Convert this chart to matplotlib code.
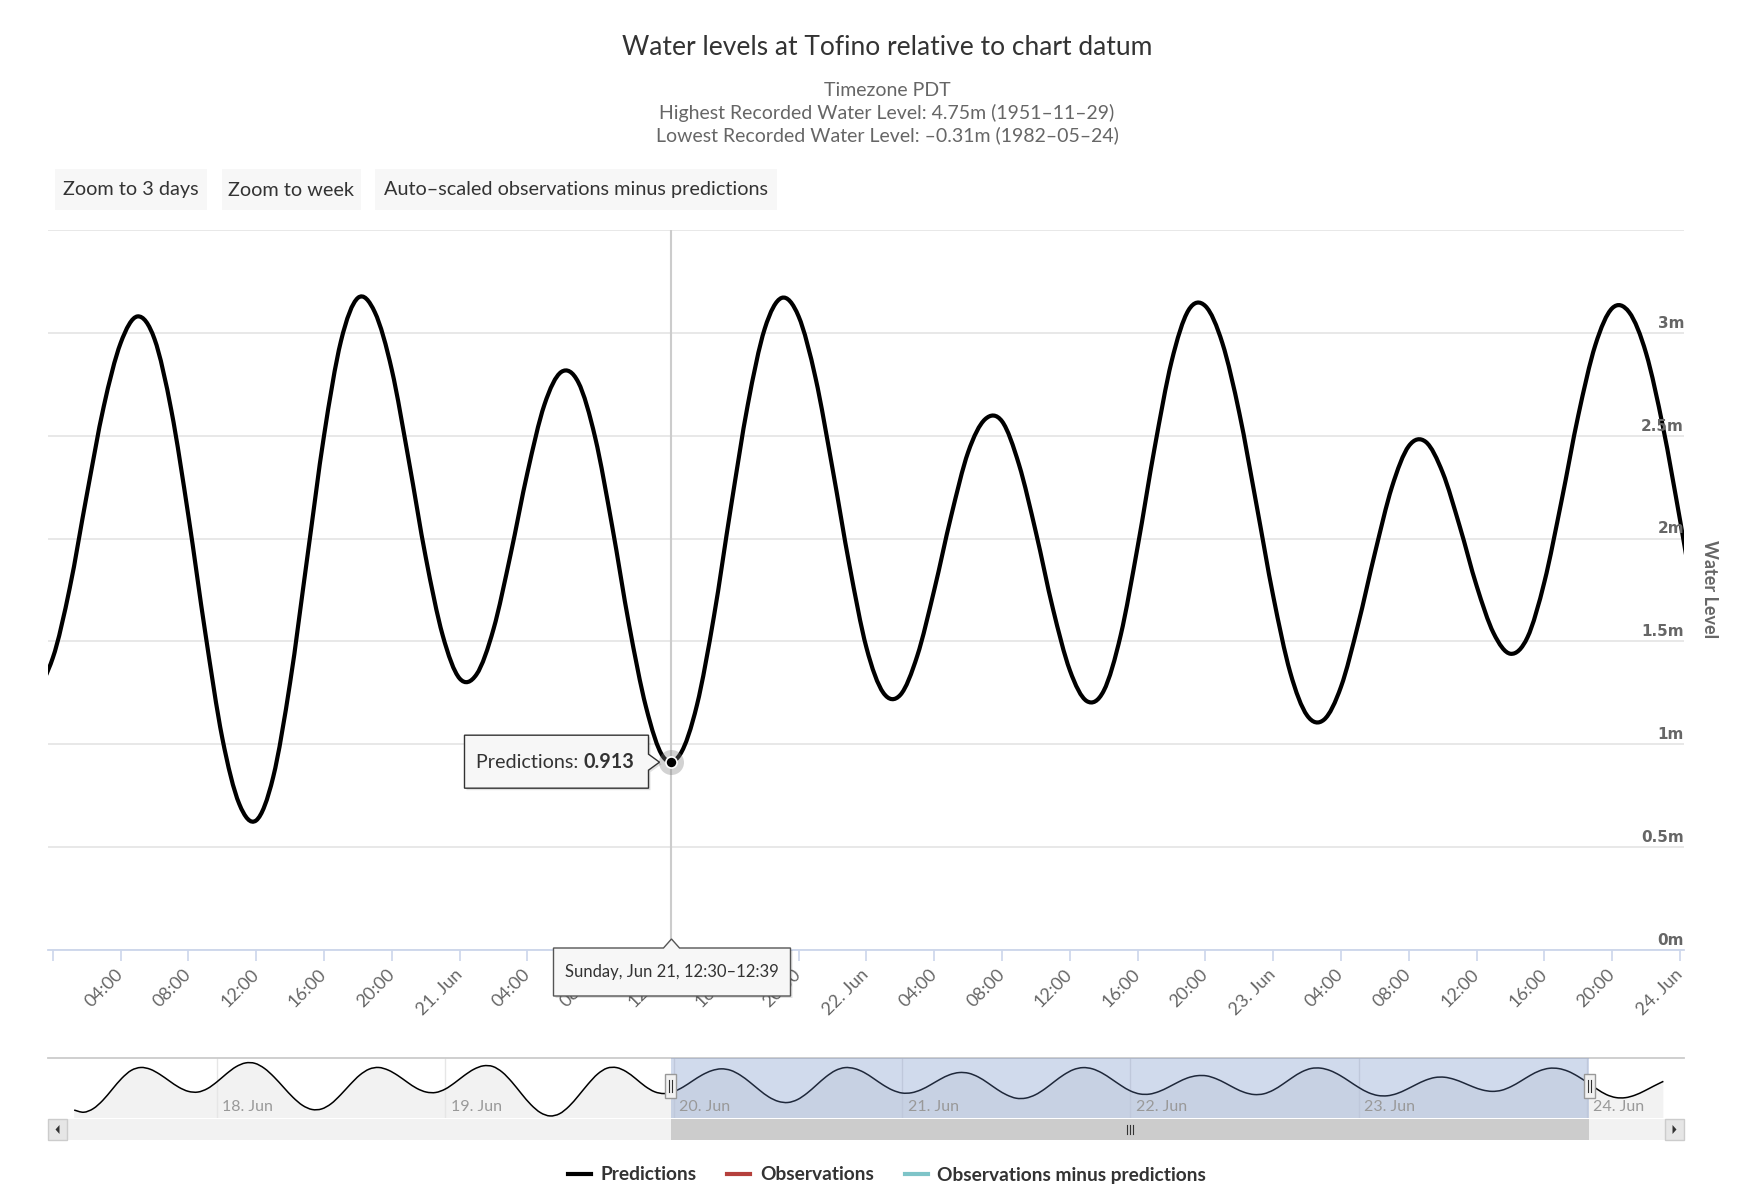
import numpy as np
import pandas as pd
import matplotlib
matplotlib.use("Agg")
import matplotlib.pyplot as plt
import matplotlib.dates as mdates
import matplotlib.transforms as mtransforms
from matplotlib.patches import Rectangle, Polygon, PathPatch
from matplotlib.path import Path
from matplotlib.lines import Line2D

plt.rcParams["font.family"] = ["Lato", "DejaVu Sans"]

W, H = 1743, 1189

# Predicted water level (m), hourly from 2020-06-17 09:00 PDT
series_start = "2020-06-17 09:00"
level = [
    0.08, -0.08, 0.18, 0.78, 1.59, 2.39, 2.97, 3.18, 3.05, 2.68, 2.20, 1.74,
    1.44, 1.39, 1.64, 2.13, 2.72, 3.23, 3.51, 3.48, 3.11, 2.49, 1.74, 1.00,
    0.42, 0.12, 0.16, 0.54, 1.19, 1.94, 2.62, 3.06, 3.18, 2.99, 2.60, 2.11,
    1.66, 1.39, 1.36, 1.61, 2.07, 2.60, 3.05, 3.30, 3.25, 2.83, 2.12, 1.27,
    0.47, -0.11, -0.35, -0.19, 0.35, 1.13, 1.97, 2.70, 3.13, 3.17, 2.88, 2.37,
    1.81, 1.41, 1.28, 1.42, 1.76, 2.21, 2.64, 2.95, 3.08, 2.97, 2.62, 2.11,
    1.54, 1.03, 0.71, 0.63, 0.84, 1.30, 1.90, 2.50, 2.96, 3.17, 3.10, 2.82,
    2.38, 1.91, 1.53, 1.32, 1.34, 1.56, 1.92, 2.32, 2.65, 2.81, 2.76, 2.49,
    2.06, 1.58, 1.18, 0.94, 0.95, 1.19, 1.62, 2.15, 2.65, 3.02, 3.17, 3.08,
    2.78, 2.34, 1.87, 1.47, 1.25, 1.24, 1.43, 1.75, 2.11, 2.42, 2.58, 2.57,
    2.36, 2.03, 1.66, 1.36, 1.21, 1.26, 1.53, 1.96, 2.44, 2.86, 3.11, 3.13,
    2.95, 2.61, 2.17, 1.72, 1.35, 1.14, 1.12, 1.28, 1.58, 1.93, 2.25, 2.45,
    2.47, 2.32, 2.06, 1.77, 1.54, 1.44, 1.52, 1.79, 2.18, 2.60, 2.94, 3.12,
    3.10, 2.90, 2.54, 2.09, 1.62, 1.21, 0.99, 0.98, 1.16, 1.47, 1.83, 2.17,
]

view_start, view_end = "2020-06-19 23:43", "2020-06-24 00:14"
nav_start, nav_end = "2020-06-17 06:15", "2020-06-24 10:10"
nav_days = ["2020-06-18", "2020-06-19", "2020-06-20", "2020-06-21",
            "2020-06-22", "2020-06-23", "2020-06-24"]

hover_time = "2020-06-21 12:30"
hover_value = 0.913
hover_label = "Sunday, Jun 21, 12:30\u201312:39"

y_ticks = [0, 0.5, 1, 1.5, 2, 2.5, 3]
y_max = 3.5

title = "Water levels at Tofino relative to chart datum"
subtitle = ["Timezone PDT",
            "Highest Recorded Water Level: 4.75m (1951\u201311\u201329)",
            "Lowest Recorded Water Level: \u20130.31m (1982\u201305\u201324)"]
buttons = ["Zoom to 3 days", "Zoom to week", "Auto\u2013scaled observations minus predictions"]
legend_names = ["Predictions", "Observations", "Observations minus predictions"]
legend_colors = ["#000000", "#b5403c", "#7ec4c8"]


def fx(x):
    return x / W


def fy(y):
    return 1 - y / H


def spline_path(xs, ys):
    # smooth line through the points (Catmull-Rom as cubic Bezier), like a spline series
    n = len(xs)
    verts = [(xs[0], ys[0])]
    codes = [Path.MOVETO]
    for i in range(n - 1):
        j0 = max(i - 1, 0)
        j3 = min(i + 2, n - 1)
        c1 = (xs[i] + (xs[i + 1] - xs[j0]) / 6, ys[i] + (ys[i + 1] - ys[j0]) / 6)
        c2 = (xs[i + 1] - (xs[j3] - xs[i]) / 6, ys[i + 1] - (ys[j3] - ys[i]) / 6)
        verts += [c1, c2, (xs[i + 1], ys[i + 1])]
        codes += [Path.CURVE4] * 3
    return Path(verts, codes)


fig = plt.figure(figsize=(W / 100, H / 100), dpi=100)
fig.patch.set_facecolor("white")

times = pd.date_range(series_start, periods=len(level), freq="h")
tnum = mdates.date2num(times)
curve = spline_path(tnum, level)

# ---- main chart
ax = fig.add_axes([fx(48), fy(950), (1684 - 48) / W, (950 - 230) / H])
ax.xaxis_date()
ax.add_patch(PathPatch(curve, facecolor="none", edgecolor="black", lw=3.0,
                       joinstyle="round", capstyle="round", zorder=3))
ax.set_xlim(pd.Timestamp(view_start), pd.Timestamp(view_end))
ax.set_ylim(0, y_max)

for s in ["top", "left", "right"]:
    ax.spines[s].set_visible(False)
ax.spines["bottom"].set_color("#ccd6eb")
ax.spines["bottom"].set_linewidth(1.3)

ax.set_yticks(y_ticks + [y_max])
ax.yaxis.grid(True, color="#e6e6e6", lw=1.3)
ax.tick_params(axis="y", length=0, labelleft=False)
ax.set_axisbelow(True)

ytrans = mtransforms.blended_transform_factory(ax.transAxes, ax.transData)
for v in y_ticks:
    ax.annotate(f"{v:g}m", (1.0, v), xycoords=ytrans, xytext=(0, 1.5),
                textcoords="offset points", ha="right", va="bottom",
                fontsize=11, fontweight="bold", color="#666666",
                family="DejaVu Sans")

tick_times = pd.date_range("2020-06-20 00:00", "2020-06-24 00:00", freq="4h")
tick_labels = []
for i, t in enumerate(tick_times):
    if i == 0:
        tick_labels.append("")
    elif t.hour == 0:
        tick_labels.append(f"{t.day}. {t:%b}")
    else:
        tick_labels.append(f"{t:%H:%M}")
ax.set_xticks(tick_times)
ax.set_xticklabels(tick_labels, rotation=45, ha="right", va="center",
                   rotation_mode="anchor", fontsize=13, color="#666666")
ax.tick_params(axis="x", length=8, width=1.2, color="#ccd6eb", pad=8)

fig.text(fx(1710), fy(589), "Water Level", rotation=270, ha="center",
         va="center", fontsize=13, fontweight="bold", color="#666666")

# hover state
ht = pd.Timestamp(hover_time)
ax.axvline(ht, color="#cccccc", lw=1.5, zorder=2)
ax.plot([ht], [hover_value], "o", ms=18, color="#808080", alpha=0.35,
        mec="none", zorder=4, clip_on=False)
ax.plot([ht], [hover_value], "o", ms=8, color="black", mec="white",
        mew=1.2, zorder=5, clip_on=False)

# ---- navigator
nav_lo, nav_hi = -0.5, 3.87
nax = fig.add_axes([fx(48), fy(1118), (1684 - 48) / W, (1118 - 1058) / H])
nax.xaxis_date()
fill_verts = list(curve.vertices) + [(tnum[-1], nav_lo), (tnum[0], nav_lo), (tnum[0], level[0])]
fill_codes = list(curve.codes) + [Path.LINETO, Path.LINETO, Path.CLOSEPOLY]
nax.add_patch(PathPatch(Path(fill_verts, fill_codes), facecolor="#f2f2f2",
                        edgecolor="none", zorder=1))
nax.add_patch(PathPatch(curve, facecolor="none", edgecolor="black", lw=1.1,
                        zorder=3))
nax.set_xlim(pd.Timestamp(nav_start), pd.Timestamp(nav_end))
nax.set_ylim(nav_lo, nav_hi)
nax.axvspan(pd.Timestamp(view_start), pd.Timestamp(view_end),
            color=(102 / 255, 133 / 255, 194 / 255), alpha=0.3, lw=0, zorder=4)
nxtrans = mtransforms.blended_transform_factory(nax.transData, nax.transAxes)
for d in nav_days:
    dt = pd.Timestamp(d)
    nax.axvline(dt, color="#e6e6e6", lw=1.0, zorder=2)
    nax.annotate(f"{dt.day}. {dt:%b}", (mdates.date2num(dt), 0.0),
                 xycoords=nxtrans, xytext=(4, 3), textcoords="offset points",
                 ha="left", va="bottom", fontsize=11.5, color="#999999",
                 zorder=5)
nax.set_xticks([])
nax.set_yticks([])
for s in ["left", "right", "bottom"]:
    nax.spines[s].set_visible(False)
nax.spines["top"].set_color("#cccccc")
nax.spines["top"].set_linewidth(1.3)

# ---- overlay in pixel coordinates (top-left origin)
ov = fig.add_axes([0, 0, 1, 1], zorder=10)
ov.set_xlim(0, W)
ov.set_ylim(H, 0)
ov.axis("off")


def to_px(axes, x, y):
    dx, dy = axes.transData.transform((x, y))
    return dx, H - dy


fig.text(fx(887), fy(47.5), title, ha="center", va="center", fontsize=19,
         color="#333333")
for i, line in enumerate(subtitle):
    fig.text(fx(887), fy(90 + 22.8 * i), line, ha="center", va="center",
             fontsize=14, color="#666666")

btn_x = [55, 222, 375]
btn_w = [152, 139, 402]
for x0, bw, label in zip(btn_x, btn_w, buttons):
    ov.add_patch(Rectangle((x0, 169), bw, 41, facecolor="#f7f7f7",
                           edgecolor="none"))
    ov.text(x0 + bw / 2, 190, label, ha="center", va="center",
            fontsize=14.3, color="#333333")

# point tooltip
px, py = to_px(ax, mdates.date2num(ht), hover_value)
L, R, T, B = px - 207, px - 23, py - 27, py + 26
tip = [(L, T), (R, T), (R, py - 8), (px - 12, py), (R, py + 8), (R, B), (L, B)]
ov.add_patch(Polygon([(a + 2, b + 2) for a, b in tip], closed=True,
                     facecolor="black", alpha=0.12, edgecolor="none"))
ov.add_patch(Polygon(tip, closed=True, facecolor="#f7f7f7", edgecolor="#333333",
                     lw=1.0))
t1 = ov.text(L + 12, py, "Predictions: ", ha="left", va="center",
             fontsize=14.2, color="#333333")
renderer = fig.canvas.get_renderer()
bb = t1.get_window_extent(renderer)
ov.text(bb.x1, py, f"{hover_value:.3f}", ha="left", va="center",
        fontsize=14.2, fontweight="bold", color="#333333")

# crosshair label
axis_y = H - ax.transAxes.transform((0, 0))[1]
cL, cR, cT, cB = px - 118, px + 119, axis_y - 2, axis_y + 46
cross = [(cL, cT), (px - 8, cT), (px, cT - 9), (px + 8, cT), (cR, cT), (cR, cB), (cL, cB)]
ov.add_patch(Polygon([(a + 2, b + 2) for a, b in cross], closed=True,
                     facecolor="black", alpha=0.12, edgecolor="none"))
ov.add_patch(Polygon(cross, closed=True, facecolor="#f7f7f7", edgecolor="#555555",
                     lw=1.0))
ov.text(px, (cT + cB) / 2, hover_label, ha="center", va="center",
        fontsize=12, color="#333333")

# navigator handles and scrollbar
sx0, _ = to_px(nax, mdates.date2num(pd.Timestamp(view_start)), 0)
sx1, _ = to_px(nax, mdates.date2num(pd.Timestamp(view_end)), 0)
for hx in (sx0, sx1):
    ov.add_patch(Rectangle((hx - 5.5, 1074), 11, 24, facecolor="#f2f2f2",
                           edgecolor="#999999", lw=1.0))
    for dx in (-1.5, 1.5):
        ov.plot([hx + dx, hx + dx], [1080, 1092], color="#333333", lw=0.8)

ov.add_patch(Rectangle((48, 1119), 1636, 21, facecolor="#f2f2f2", edgecolor="none"))
ov.add_patch(Rectangle((sx0, 1119), sx1 - sx0, 21, facecolor="#cccccc",
                       edgecolor="none"))
for dx in (-3, 0, 3):
    ov.plot([(sx0 + sx1) / 2 + dx] * 2, [1125, 1134], color="#333333", lw=0.8)
for bx, direction in ((48, -1), (1665, 1)):
    ov.add_patch(Rectangle((bx, 1119), 19, 21, facecolor="#e6e6e6",
                           edgecolor="#cccccc", lw=1.0))
    cx = bx + 9.5
    ov.add_patch(Polygon([(cx - 2 * direction, 1125), (cx + 2 * direction, 1129.5),
                          (cx - 2 * direction, 1134)], closed=True,
                         facecolor="#333333", edgecolor="none"))

# legend
handles = [Line2D([], [], color=c, lw=3) for c in legend_colors]
fig.legend(handles, legend_names, loc="center", bbox_to_anchor=(fx(887), fy(1175)),
           ncol=3, frameon=False, handlelength=1.2, handletextpad=0.5,
           columnspacing=1.6, prop={"weight": "bold", "size": 13.8},
           labelcolor="#333333")

fig.savefig("out.png", dpi=100, facecolor="white")
